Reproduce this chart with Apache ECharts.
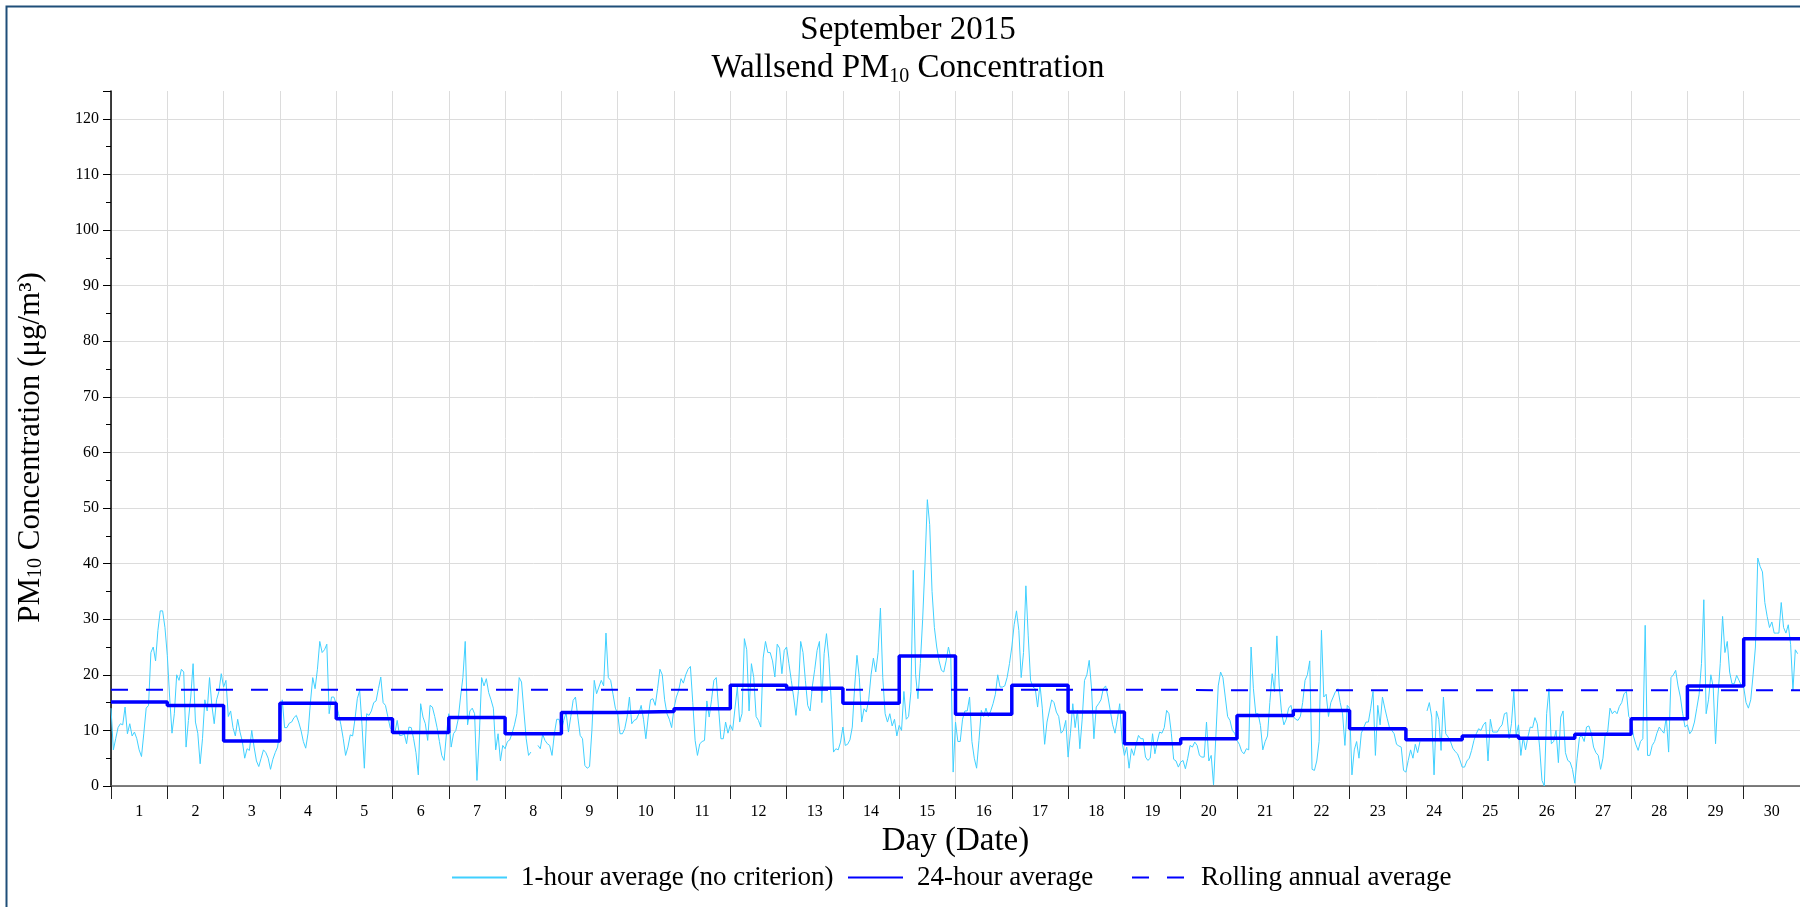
<!DOCTYPE html>
<html>
<head>
<meta charset="utf-8">
<title>Wallsend PM10 - September 2015</title>
<script src="https://cdn.jsdelivr.net/npm/echarts@6/dist/echarts.min.js"></script>
<style>
    html, body { margin: 0; padding: 0; background: #fff; }
    #chart_container { width: 1800px; height: 907px; }
</style>
</head>
<body>
<div id="chart_container"></div>
<script>
// day labels on the x axis
var days = [1,2,3,4,5,6,7,8,9,10,11,12,13,14,15,16,17,18,19,20,21,22,23,24,25,26,27,28,29,30];

// 1-hour averages, one row per day (hour 0..23), null = missing
var hourly = [
    [14,6.5,8.5,10.5,11.2,11,14.2,9.4,11.2,9,9.7,8.5,6.5,5.3,9.5,14,14.5,24,25,22.5,28,31.5,31.5,28.5],
    [23.5,16,9.5,13,20,19,21,20.5,7,11.8,16,22,11.5,9.5,4,8.5,15.5,13.5,19.5,14.5,11.2,15.5,17,20.2],
    [17.8,19,12.5,13.5,10.5,9,12,9.7,8,5,6.7,6.4,10,7,4.5,3.5,5,6.5,6,5,3,4.8,6,7],
    [10,15.5,10.5,10.5,11.3,11.5,12.3,12.7,11.5,10,8,6.8,9.5,15,19.5,17.5,21,26,24,24.5,25.5,13,16,16],
    [14.8,13,11,8.5,5.5,7,9.2,9,12,15.7,17.2,11,3.2,13,12.7,13.5,15,15.3,17.5,19.6,15,14.5,12.5,10.5],
    [10,9.5,11.8,9.1,9.1,9.4,7.6,10.6,10.5,8.5,6,2,14.8,12.4,11.2,8.2,14.5,14.2,12.5,10.5,8,5.5,4.6,9.4],
    [13,7,9.4,10,12,16,19.5,26,11,13.5,14,13,1,9,19.5,18,19.3,16.8,15.5,14,6.5,9.4,4.5,7.3],
    [6.7,8,8.3,9.5,11,13,19.5,18.7,13.5,8.5,5.5,6.1,null,null,7.3,6.7,9.3,8.2,7.6,7.3,5.5,9.4,12,12],
    [10,11.8,13.2,9.7,12.5,15.4,16,12.4,9.1,8.5,3.7,3.2,3.5,10,19,16.6,17.8,19,18,27.5,19.5,19,16.5,14],
    [13,9.4,9.4,10.3,12.4,16,11.2,11.8,12,13,14.5,12,8.5,12.4,15.5,15.7,14.5,17.5,21,20,15.5,13,12,10.5],
    [14,16,17.2,19.3,18.5,20,21,21.5,15,8.2,5.5,7.6,8,8.2,15.3,12.4,15.5,19,19.5,14,8.5,8.5,11.5,9.5],
    [11,10,14,17.8,11.5,13,26.5,24.5,13.5,22,19.5,12.5,11.8,10.6,23,26,24,24,22.5,19.6,25.5,24.8,20.2,24.4],
    [25,22,19,16,12.7,17,26,24,19,14.5,13.5,18,21,24.4,26,15,23.8,27.4,23,15.5,6.1,6.7,6.5,7.9],
    [10.6,7.3,7.5,8.3,10.6,17.8,23.5,19.5,11.5,13.9,13.3,15.5,20,23,20.5,24,32,19.5,13,11.5,13,10.8,12,9],
    [10.9,10,17,12,12.5,17,38.8,20,15.7,22,30,40,51.5,47,35,28.5,25,22.5,20.8,20.5,22.5,25,23,2.5],
    [11.5,8,8,12,13.5,13.5,16,8,5,3.2,8.2,13.6,12.5,14,12.5,13.5,14.8,16.5,20,17.8,17.8,18,19.5,22],
    [25,29,31.5,28,19.5,24,36,27,19,17.8,17.5,14.2,18.3,14,7.5,11.5,13.5,15.5,15,13.3,12.5,9.5,10,11.8],
    [5.2,9.5,14.8,10.5,13.6,6.7,12,19,20,22.6,17.5,8.5,14.2,14.8,15.5,17.5,18,16,13.5,11,9.5,12,14.8,8],
    [5.5,7,3.2,6.7,5.5,7.5,9.1,8.5,8.5,5.2,4.6,5,9.4,5.8,8,9.7,9.5,10.5,13.6,13,9.5,4.8,4.5,3.4],
    [4.3,4.6,3.1,5,7.3,7,7.9,7.3,5.5,5.2,5.2,11.5,4.5,5.5,0.2,9,18,20.5,19.5,16,12.5,11.8,10,9.5],
    [8.2,7.5,6.2,5.8,6.7,6.5,25,17.5,13,13,10.9,6.5,8,9,15,20.2,17,27,18,13.2,11,12,14,14.5],
    [12.5,12,11.8,12.5,15,19,20,22.5,3,2.8,4.5,8,28,16,16.5,12.5,15,16,17,17.5,15,13,7.3,14.5],
    [14,2,6.5,8,5,9.5,10.5,11.5,11.5,14,17,5.5,14.5,11,16,14,12.2,10.5,10,9.4,7.5,7.2,7,2.8],
    [2.5,4.6,6.5,5,7.5,6,8,null,null,13.5,15,12.4,2,13.5,12,6.4,16,9.4,8.8,8,6.8,6.2,5.8,4.7],
    [3.4,3.4,4.5,5,6.4,8.2,9.4,10.3,10,11,11.5,4.5,12,9.7,9.7,9.7,10.5,11,13,13.2,8.5,11.2,17,9],
    [11,5.5,8.8,6.5,8.8,10.6,10.5,12.3,11.2,7,1,0,13,17.5,7.6,8,10,4.2,12.4,13.5,6,4.6,4.3,3],
    [0.5,5,8.8,9,8,10.6,10.8,9.5,7,6,5.5,3,5,9.4,9.7,14,13,13.5,13,14.3,15,16.6,17,12.5],
    [12,9,7.5,6.4,8,8.5,28.9,5.5,5.5,7.3,8,9.5,10.6,10,9.5,12.4,6.1,19.5,20,20.8,18,16,13,10.6],
    [11,9.4,10,11.5,14,16.5,22,33.5,13,15.5,20,17.8,7.6,16,22,30.5,24,26,20.5,18.4,18.4,19.9,19,18],
    [17.8,15,14,15.5,20,25,41,39.5,38.5,33,30.5,28.5,29.5,27.5,27.5,27.5,33,28.5,27.5,29,25.5,17.2,24.5,23.8]
];

// 24-hour average for each day
var daily24 = [15.1,14.5,8.1,14.9,12.1,9.6,12.3,9.4,13.2,13.4,13.9,18.1,17.6,14.9,23.4,
               12.9,18.1,13.3,7.6,8.5,12.7,13.6,10.3,8.3,9.0,8.6,9.3,12.1,18.0,26.5];

// rolling annual average, per day
var annualAvg = [17.3,17.3,17.3,17.3,17.3,17.3,17.3,17.3,17.3,17.3,17.3,17.3,17.3,17.3,17.3,
                 17.3,17.3,17.3,17.3,17.3,17.2,17.2,17.2,17.2,17.2,17.2,17.2,17.2,17.2,17.2];

var seriesNames = ['1-hour average (no criterion)', '24-hour average', 'Rolling annual average'];

var FONT = "'Liberation Serif', 'DejaVu Serif', serif";

// build series data on a day scale (0..30), hour h of day d at d + h/24
var hourData = [];
for (var d = 0; d < hourly.length; d++) {
    for (var h = 0; h < 24; h++) {
        var v = hourly[d][h];
        hourData.push([d + h / 24, v === null ? '-' : v]);
    }
}
var stepData = daily24.map(function (v, i) { return [i, v]; });
stepData.push([daily24.length, daily24[daily24.length - 1]]);
var annualData = annualAvg.map(function (v, i) { return [i, v]; });
annualData.push([annualAvg.length, annualAvg[annualAvg.length - 1]]);

// one legend per entry so each can sit where the original puts it
var legendLeft = [451, 847, 1131];
var legends = seriesNames.map(function (name, i) {
    return {
        left: legendLeft[i],
        top: 864,
        padding: 0,
        itemWidth: 55,
        itemHeight: 14,
        itemStyle: { opacity: 0 },
        textStyle: { fontFamily: FONT, fontSize: 27, color: '#000', padding: [0, 0, 0, 9] },
        data: [name]
    };
});

var dom = document.getElementById("chart_container");
var myChart = echarts.init(dom, null, {renderer: 'canvas'});

var option = {
    animation: false,
    backgroundColor: '#fff',
    textStyle: { fontFamily: FONT, color: '#000' },
    title: {
        text: 'September 2015\nWallsend PM{sub|10} Concentration',
        left: 903,
        top: 6,
        textAlign: 'center',
        textStyle: {
            fontFamily: FONT,
            fontWeight: 'normal',
            fontSize: 33,
            lineHeight: 38,
            color: '#000',
            rich: {
                sub: { fontFamily: FONT, fontSize: 20, lineHeight: 20, verticalAlign: 'bottom', color: '#000' }
            }
        }
    },
    graphic: [{
        type: 'rect',
        left: 4, top: 4,
        shape: { width: 2200, height: 1200 },
        style: { fill: 'none', stroke: '#1f4e79', lineWidth: 2 },
        silent: true
    }],
    legend: legends,
    grid: { left: 111, right: 0, top: 91, bottom: 121, containLabel: false },
    xAxis: [
        {
            type: 'value',
            min: 0,
            max: 30,
            interval: 1,
            axisLine: { show: true, onZero: false, lineStyle: { color: '#555', width: 1.5 } },
            axisTick: { show: true, length: 13, lineStyle: { color: '#222', width: 1 } },
            axisLabel: { show: false },
            splitLine: { show: true, lineStyle: { color: '#dcdcdc', width: 1 } }
        },
        {
            type: 'category',
            data: days,
            position: 'bottom',
            boundaryGap: true,
            axisLine: { show: false },
            axisTick: { show: false },
            splitLine: { show: false },
            axisLabel: { interval: 0, margin: 18, fontSize: 16, fontFamily: FONT, color: '#000' },
            name: 'Day (Date)',
            nameLocation: 'middle',
            nameGap: 39,
            nameTextStyle: { fontFamily: FONT, fontSize: 33, color: '#000' }
        }
    ],
    yAxis: {
        type: 'value',
        min: 0,
        max: 125,
        interval: 10,
        axisLine: { show: true, lineStyle: { color: '#000', width: 1.5 } },
        axisTick: { show: true, length: 8, lineStyle: { color: '#000' } },
        minorTick: { show: true, splitNumber: 2, length: 5, lineStyle: { color: '#000' } },
        axisLabel: {
            margin: 12, fontSize: 16, fontFamily: FONT, color: '#000',
            formatter: function (v) { return v > 120 ? '' : String(v); }
        },
        splitLine: { show: true, showMaxLine: false, lineStyle: { color: '#dcdcdc', width: 1 } },
        name: 'PM{sub|10} Concentration (\u03bcg/m\u00b3)',
        nameLocation: 'middle',
        nameGap: 65,
        nameTextStyle: {
            fontFamily: FONT, fontSize: 31, color: '#000',
            padding: [0, 18, 0, 0],
            rich: { sub: { fontFamily: FONT, fontSize: 20, lineHeight: 20, verticalAlign: 'bottom', color: '#000' } }
        }
    },
    series: [
        {
            name: seriesNames[0],
            type: 'line',
            xAxisIndex: 0,
            symbol: 'none',
            connectNulls: false,
            lineStyle: { color: '#40D0FF', width: 1 },
            itemStyle: { color: '#40D0FF' },
            data: hourData,
            z: 2
        },
        {
            name: seriesNames[1],
            type: 'line',
            xAxisIndex: 0,
            step: 'end',
            symbol: 'none',
            lineStyle: { color: '#0000FF', width: 3.5 },
            itemStyle: { color: '#0000FF' },
            data: stepData,
            z: 4
        },
        {
            name: seriesNames[2],
            type: 'line',
            xAxisIndex: 0,
            symbol: 'none',
            lineStyle: { color: '#0000FF', width: 2, type: [17, 18] },
            itemStyle: { color: '#0000FF' },
            data: annualData,
            z: 3
        }
    ]
};

myChart.setOption(option, true);
</script>
</body>
</html>
